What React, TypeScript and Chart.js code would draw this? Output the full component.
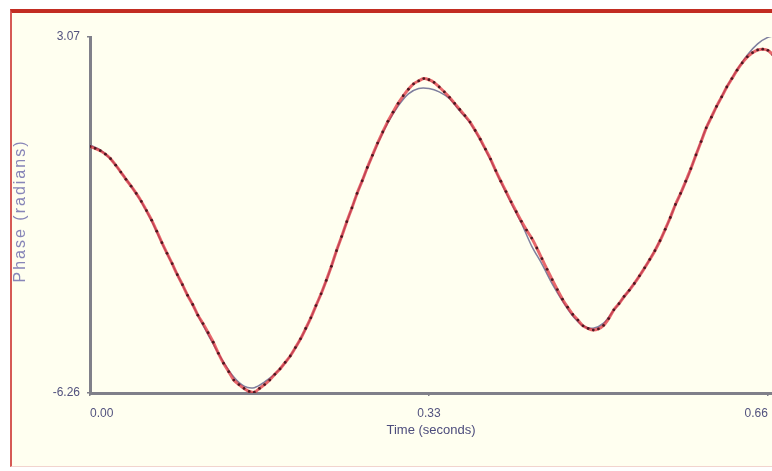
import React, { useEffect, useRef } from "react";
import { Chart, registerables } from "chart.js";

Chart.register(...registerables);

// Fitted model curve: time (s) and phase (rad)
const fitTimes = [
  0.0, 0.01, 0.02, 0.03, 0.04, 0.05, 0.06, 0.07, 0.08, 0.09,
  0.1, 0.11, 0.12, 0.13, 0.14, 0.15, 0.16, 0.17, 0.18, 0.19,
  0.2, 0.21, 0.22, 0.23, 0.24, 0.25, 0.26, 0.27, 0.28, 0.29,
  0.3, 0.31, 0.32, 0.33, 0.34, 0.35, 0.36, 0.37, 0.38, 0.39,
  0.4, 0.41, 0.42, 0.43, 0.44, 0.45, 0.46, 0.47, 0.48, 0.49,
  0.5, 0.51, 0.52, 0.53, 0.54, 0.55, 0.56, 0.57, 0.58, 0.59,
  0.6, 0.61, 0.62, 0.63, 0.64, 0.65, 0.66, 0.67,
];
const fitPhase = [
  0.24, 0.11, -0.13, -0.47, -0.84, -1.25, -1.75, -2.33, -2.88, -3.43,
  -3.95, -4.48, -4.98, -5.45, -5.84, -6.08, -6.12, -5.97, -5.76, -5.47,
  -5.08, -4.58, -3.98, -3.32, -2.54, -1.78, -1.04, -0.36, 0.27, 0.82,
  1.26, 1.58, 1.72, 1.72, 1.63, 1.45, 1.13, 0.82, 0.37, -0.15,
  -0.73, -1.28, -1.81, -2.41, -2.88, -3.4, -3.85, -4.24, -4.5, -4.56,
  -4.43, -4.09, -3.74, -3.38, -2.98, -2.52, -1.98, -1.33, -0.73, -0.02,
  0.69, 1.24, 1.76, 2.21, 2.6, 2.89, 3.06, 3.12,
];

// Measured samples: time (s) and phase (rad)
const sampleTimes = [
  0.0, 0.005, 0.01, 0.015, 0.02, 0.025, 0.03, 0.035, 0.04, 0.045,
  0.05, 0.055, 0.06, 0.065, 0.07, 0.075, 0.08, 0.085, 0.09, 0.095,
  0.1, 0.105, 0.11, 0.115, 0.12, 0.125, 0.13, 0.135, 0.14, 0.145,
  0.15, 0.155, 0.16, 0.165, 0.17, 0.175, 0.18, 0.185, 0.19, 0.195,
  0.2, 0.205, 0.21, 0.215, 0.22, 0.225, 0.23, 0.235, 0.24, 0.245,
  0.25, 0.255, 0.26, 0.265, 0.27, 0.275, 0.28, 0.285, 0.29, 0.295,
  0.3, 0.305, 0.31, 0.315, 0.32, 0.325, 0.33, 0.335, 0.34, 0.345,
  0.35, 0.355, 0.36, 0.365, 0.37, 0.375, 0.38, 0.385, 0.39, 0.395,
  0.4, 0.405, 0.41, 0.415, 0.42, 0.425, 0.43, 0.435, 0.44, 0.445,
  0.45, 0.455, 0.46, 0.465, 0.47, 0.475, 0.48, 0.485, 0.49, 0.495,
  0.5, 0.505, 0.51, 0.515, 0.52, 0.525, 0.53, 0.535, 0.54, 0.545,
  0.55, 0.555, 0.56, 0.565, 0.57, 0.575, 0.58, 0.585, 0.59, 0.595,
  0.6, 0.605, 0.61, 0.615, 0.62, 0.625, 0.63, 0.635, 0.64, 0.645,
  0.65, 0.655, 0.66, 0.665,
];
const samplePhase = [
  0.2, 0.15, 0.09, 0.0, -0.12, -0.29, -0.47, -0.66, -0.84, -1.03,
  -1.24, -1.48, -1.73, -2.02, -2.32, -2.6, -2.87, -3.16, -3.42, -3.7,
  -3.94, -4.22, -4.44, -4.68, -4.93, -5.22, -5.48, -5.7, -5.92, -6.04,
  -6.14, -6.22, -6.24, -6.14, -6.04, -5.92, -5.77, -5.63, -5.46, -5.29,
  -5.07, -4.84, -4.57, -4.29, -3.97, -3.66, -3.31, -2.94, -2.53, -2.16,
  -1.77, -1.41, -1.03, -0.7, -0.35, -0.03, 0.29, 0.58, 0.86, 1.1,
  1.33, 1.53, 1.7, 1.84, 1.92, 1.98, 1.95, 1.88, 1.76, 1.63,
  1.49, 1.33, 1.17, 1.01, 0.84, 0.62, 0.39, 0.13, -0.13, -0.43,
  -0.71, -0.98, -1.25, -1.51, -1.76, -1.99, -2.2, -2.46, -2.74, -3.02,
  -3.29, -3.55, -3.8, -4.01, -4.2, -4.35, -4.5, -4.57, -4.61, -4.58,
  -4.49, -4.31, -4.08, -3.92, -3.73, -3.57, -3.39, -3.19, -2.98, -2.76,
  -2.53, -2.27, -1.97, -1.66, -1.32, -1.03, -0.71, -0.38, -0.02, 0.33,
  0.69, 0.97, 1.25, 1.5, 1.76, 1.98, 2.2, 2.39, 2.55, 2.66,
  2.73, 2.75, 2.72, 2.6,
];

// Axis ticks and titles
const timeTicks = [0, 0.33, 0.66];
const phaseTicks = [-6.26, 3.07];
const timeTitle = "Time (seconds)";
const phaseTitle = "Phase (radians)";

const labelFont = { family: "'Liberation Sans', Arial, sans-serif", size: 12 };
const tickColor = "#52527e";
const axisColor = "#80808a";

// Vertical axis title drawn with wide letter spacing
const phaseTitlePlugin = {
  id: "phaseTitle",
  afterDraw(chart: any) {
    const { ctx, chartArea } = chart;
    ctx.save();
    ctx.translate(21, (chartArea.top + chartArea.bottom) / 2 - 4);
    ctx.rotate(-Math.PI / 2);
    ctx.font = "16px 'Liberation Sans', Arial, sans-serif";
    ctx.letterSpacing = "2px";
    ctx.fillStyle = "#8886b8";
    ctx.textAlign = "center";
    ctx.textBaseline = "middle";
    ctx.fillText(phaseTitle, 0, 0);
    ctx.restore();
  },
};

export default function App() {
  const canvasRef = useRef<HTMLCanvasElement | null>(null);

  useEffect(() => {
    const canvas = canvasRef.current;
    if (!canvas) return;

    const chart = new Chart(canvas, {
      type: "line",
      data: {
        datasets: [
          {
            label: "Fit",
            data: fitTimes.map((t, i) => ({ x: t, y: fitPhase[i] })),
            borderColor: "#7f7f9e",
            borderWidth: 1.5,
            pointRadius: 0,
            tension: 0.3,
            order: 2,
          },
          {
            label: "Phase",
            data: sampleTimes.map((t, i) => ({ x: t, y: samplePhase[i] })),
            borderColor: "rgba(222, 44, 56, 0.72)",
            borderWidth: 3,
            pointRadius: 1.4,
            pointBorderWidth: 0,
            pointBackgroundColor: "#4e1820",
            tension: 0.3,
            order: 1,
          },
        ],
      },
      options: {
        responsive: false,
        animation: false,
        layout: { padding: { top: 37, right: 28, left: 0, bottom: 0 } },
        plugins: {
          legend: { display: false },
          tooltip: { enabled: false },
        },
        scales: {
          x: {
            type: "linear",
            min: 0,
            max: 0.664,
            afterBuildTicks: (scale: any) => {
              scale.ticks = timeTicks.map((v) => ({ value: v }));
            },
            afterFit: (scale: any) => {
              scale.height = 78;
            },
            ticks: {
              align: "inner",
              maxRotation: 0,
              autoSkip: false,
              padding: 10,
              color: tickColor,
              font: labelFont,
              callback: (v: any) => Number(v).toFixed(2),
            },
            grid: {
              display: true,
              drawOnChartArea: false,
              drawTicks: true,
              tickLength: 3,
              color: axisColor,
              lineWidth: 1.5,
            },
            border: { display: true, color: axisColor, width: 3 },
            title: {
              display: true,
              text: timeTitle,
              color: "#4c4c7c",
              font: { family: "'Liberation Sans', Arial, sans-serif", size: 13 },
              padding: { top: 0, bottom: 33 },
            },
          },
          y: {
            type: "linear",
            min: -6.26,
            max: 3.07,
            afterBuildTicks: (scale: any) => {
              scale.ticks = phaseTicks.map((v) => ({ value: v }));
            },
            afterFit: (scale: any) => {
              scale.width = 90;
            },
            ticks: {
              autoSkip: false,
              padding: 7,
              color: tickColor,
              font: labelFont,
              callback: (v: any) => Number(v).toFixed(2),
            },
            grid: {
              display: true,
              drawOnChartArea: false,
              drawTicks: true,
              tickLength: 3,
              color: axisColor,
              lineWidth: 1.5,
            },
            border: { display: true, color: axisColor, width: 3 },
            title: { display: false },
          },
        },
      },
      plugins: [phaseTitlePlugin],
    });

    return () => chart.destroy();
  }, []);

  return (
    <div
      style={{
        position: "fixed",
        left: 0,
        top: 0,
        width: 772,
        height: 471,
        overflow: "hidden",
        background: "#ffffff",
      }}
    >
      <div
        style={{
          position: "absolute",
          left: 10,
          top: 9,
          width: 770,
          height: 453,
          borderTop: "4px solid #c22d22",
          borderLeft: "2px solid #d65a55",
          borderBottom: "1px solid #f2d4ce",
          background: "#fffff0",
        }}
      />
      <canvas
        ref={canvasRef}
        width={800}
        height={471}
        style={{ position: "absolute", left: 0, top: 0 }}
      />
    </div>
  );
}
